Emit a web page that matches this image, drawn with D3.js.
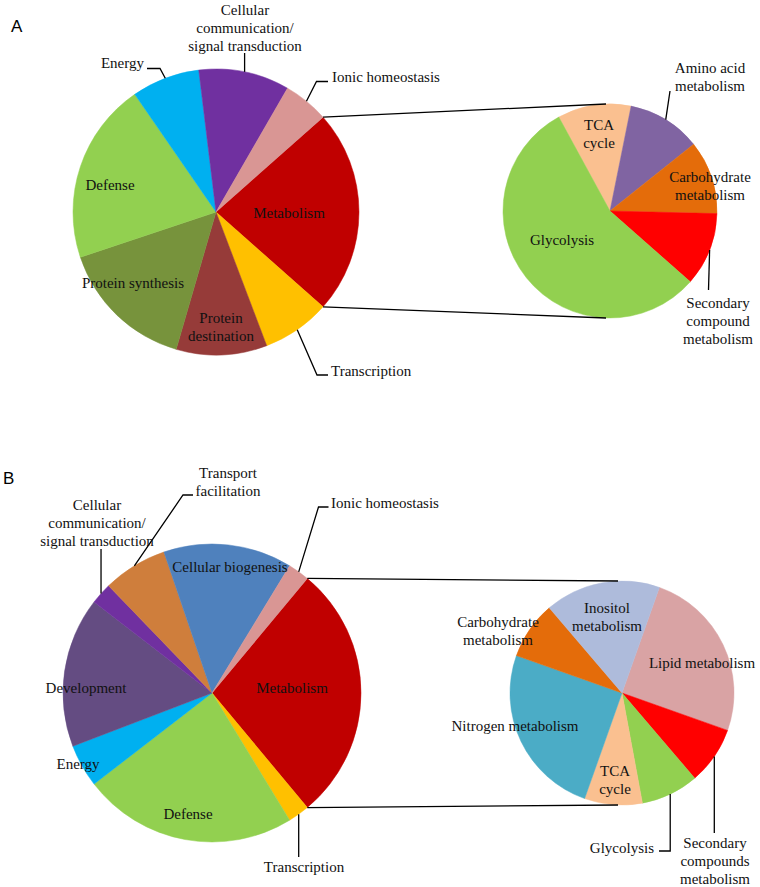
<!DOCTYPE html>
<html>
<head>
<meta charset="utf-8">
<script src="https://cdn.jsdelivr.net/npm/d3@7"></script>
<style>
  html, body { margin: 0; padding: 0; background: #fff; }
  svg { display: block; }
  .lbl { font-family: "Liberation Serif", "Times New Roman", serif; font-size: 15px; fill: #111; }
  .panel { font-family: "Liberation Sans", Arial, sans-serif; font-size: 17px; fill: #000; }
</style>
</head>
<body>
<svg id="chart" width="760" height="887"></svg>
<script>
// ---------------- DATA ----------------
const mainACategories = ["Metabolism", "Transcription", "Protein destination", "Protein synthesis", "Defense", "Energy", "Cellular communication/ signal transduction", "Ionic homeostasis"];
const mainAValues = [9, 3, 4, 6, 8, 3, 4, 2];

const subACategories = ["TCA cycle", "Amino acid metabolism", "Carbohydrate metabolism", "Secondary compound metabolism", "Glycolysis"];
const subAValues = [1, 1, 1, 1, 5];

const mainBCategories = ["Metabolism", "Transcription", "Defense", "Energy", "Development", "Cellular communication/ signal transduction", "Transport facilitation", "Cellular biogenesis", "Ionic homeostasis"];
const mainBValues = [12, 1, 10, 2, 7, 1, 3, 6, 1];

const subBCategories = ["Lipid metabolism", "Secondary compounds metabolism", "Glycolysis", "TCA cycle", "Nitrogen metabolism", "Carbohydrate metabolism", "Inositol metabolism"];
const subBValues = [3, 1, 1, 1, 3, 1, 2];

// ---------------- STYLE / LAYOUT ----------------
const colorsMainA = ["#C00000", "#FFC000", "#963B39", "#77933C", "#92D050", "#00B0F0", "#7030A0", "#D99694"];
const colorsSubA  = ["#FAC090", "#8064A2", "#E46C0A", "#FF0000", "#92D050"];
const colorsMainB = ["#C00000", "#FFC000", "#92D050", "#00B0F0", "#644C82", "#7030A0", "#CF7E3C", "#4F81BD", "#D99694"];
const colorsSubB  = ["#D9A3A4", "#FF0000", "#92D050", "#FAC090", "#4BACC6", "#E46C0A", "#AEBBDB"];

const svg = d3.select("#chart");
const deg = Math.PI / 180;

// label layouts: lines, position, anchor, optional leader (elbow points after arc point)
const labelsMainA = [
  { lines: ["Metabolism"], x: 289, y: 213 },
  { lines: ["Transcription"], x: 331, y: 371, anchor: "start", leader: [[317, 375], [328, 375]] },
  { lines: ["Protein", "destination"], x: 221, y: 318 },
  { lines: ["Protein synthesis"], x: 133, y: 283 },
  { lines: ["Defense"], x: 110, y: 185 },
  { lines: ["Energy"], x: 144, y: 63, anchor: "end", leader: [[160, 68.5], [147, 68.5]] },
  { lines: ["Cellular", "communication/", "signal transduction"], x: 245, y: 10, leader: [["mx", 53]] },
  { lines: ["Ionic homeostasis"], x: 332, y: 77, anchor: "start", leader: [[316.5, 81.5], [328, 81.5]] }
];
const labelsSubA = [
  { lines: ["TCA", "cycle"], x: 599, y: 125 },
  { lines: ["Amino acid", "metabolism"], x: 710, y: 68, leader: [[670, 91]] },
  { lines: ["Carbohydrate", "metabolism"], x: 710, y: 177 },
  { lines: ["Secondary", "compound", "metabolism"], x: 718, y: 303, leader: [[708.5, 290]] },
  { lines: ["Glycolysis"], x: 562, y: 240 }
];
const labelsMainB = [
  { lines: ["Metabolism"], x: 292, y: 688 },
  { lines: ["Transcription"], x: 304, y: 867, leader: [["mx", 857]] },
  { lines: ["Defense"], x: 188, y: 814 },
  { lines: ["Energy"], x: 78, y: 764 },
  { lines: ["Development"], x: 86, y: 688 },
  { lines: ["Cellular", "communication/", "signal transduction"], x: 97, y: 505, leader: [["mx", 549]] },
  { lines: ["Transport", "facilitation"], x: 228, y: 473, leader: [[183, 495], [193, 495]] },
  { lines: ["Cellular biogenesis"], x: 230, y: 567 },
  { lines: ["Ionic homeostasis"], x: 331, y: 503, anchor: "start", leader: [[318.5, 507], [328.5, 507]] }
];
const labelsSubB = [
  { lines: ["Lipid metabolism"], x: 702, y: 663 },
  { lines: ["Secondary", "compounds", "metabolism"], x: 715, y: 843, leader: [["mx", 833]] },
  { lines: ["Glycolysis"], x: 654, y: 848, anchor: "end", leader: [["mx", 851], [659, 851]] },
  { lines: ["TCA", "cycle"], x: 615, y: 771 },
  { lines: ["Nitrogen metabolism"], x: 515, y: 726 },
  { lines: ["Carbohydrate", "metabolism"], x: 498, y: 622 },
  { lines: ["Inositol", "metabolism"], x: 607, y: 608 }
];

const lineH = 17.7;

function drawPie(cfg) {
  const { cx, cy, r, values, colors, startDeg, labels, categories } = cfg;
  const total = d3.sum(values);
  const s = startDeg * deg;
  const pie = d3.pie().sort(null).value(d => d).startAngle(s).endAngle(s + 2 * Math.PI);
  const arcs = pie(values);
  const arc = d3.arc().innerRadius(0).outerRadius(r);
  const g = svg.append("g").attr("transform", `translate(${cx},${cy})`);
  g.selectAll("path").data(arcs).join("path")
    .attr("d", arc)
    .attr("fill", (d, i) => colors[i])
    .attr("stroke", (d, i) => colors[i])
    .attr("stroke-width", 0.5)
    .append("title").text((d, i) => categories[i] + ": " + d.value);

  // leaders
  arcs.forEach((a, i) => {
    const L = labels[i];
    if (!L || !L.leader) return;
    const mid = (a.startAngle + a.endAngle) / 2;
    const px = cx + r * Math.sin(mid), py = cy - r * Math.cos(mid);
    const pts = [[px, py]].concat(L.leader.map(p => [p[0] === "mx" ? px : p[0], p[1]]));
    svg.append("path")
      .attr("d", d3.line()(pts))
      .attr("fill", "none").attr("stroke", "#000").attr("stroke-width", 1.3);
  });

  // labels
  arcs.forEach((a, i) => {
    const L = labels[i];
    if (!L) return;
    const t = svg.append("text").attr("class", "lbl")
      .attr("text-anchor", L.anchor || "middle");
    L.lines.forEach((ln, k) => {
      t.append("tspan").attr("x", L.x).attr("y", L.y + k * lineH).attr("dy", "0.35em").text(ln);
    });
  });
  return arcs;
}

function connectors(main, mainArcs, sub) {
  const a0 = mainArcs[0].startAngle, a1 = mainArcs[0].endAngle;
  const p0 = [main.cx + main.r * Math.sin(a0), main.cy - main.r * Math.cos(a0)];
  const p1 = [main.cx + main.r * Math.sin(a1), main.cy - main.r * Math.cos(a1)];
  const q0 = [sub.cx - 4, sub.cy - sub.r];
  const q1 = [sub.cx - 4, sub.cy + sub.r];
  [[p0, q0], [p1, q1]].forEach(seg => {
    svg.append("path").attr("d", d3.line()(seg))
      .attr("fill", "none").attr("stroke", "#000").attr("stroke-width", 1.3);
  });
}

// ---------------- PANEL A ----------------
const mainA = { cx: 216, cy: 212, r: 143, values: mainAValues, colors: colorsMainA, labels: labelsMainA, categories: mainACategories };
mainA.startDeg = 90 - 180 * mainAValues[0] / d3.sum(mainAValues);
const subA = { cx: 610, cy: 211, r: 107, values: subAValues, colors: colorsSubA, labels: labelsSubA, categories: subACategories, startDeg: -28.6 };
const arcsA = drawPie(mainA);
drawPie(subA);
connectors(mainA, arcsA, subA);

// ---------------- PANEL B ----------------
const mainB = { cx: 212, cy: 693, r: 149, values: mainBValues, colors: colorsMainB, labels: labelsMainB, categories: mainBCategories };
mainB.startDeg = 90 - 180 * mainBValues[0] / d3.sum(mainBValues);
const subB = { cx: 622, cy: 693, r: 112, values: subBValues, colors: colorsSubB, labels: labelsSubB, categories: subBCategories, startDeg: 19.5 };
const arcsB = drawPie(mainB);
drawPie(subB);
connectors(mainB, arcsB, subB);

// panel letters
svg.append("text").attr("class", "panel").attr("x", 11).attr("y", 32).text("A");
svg.append("text").attr("class", "panel").attr("x", 3).attr("y", 484).text("B");
</script>
</body>
</html>
